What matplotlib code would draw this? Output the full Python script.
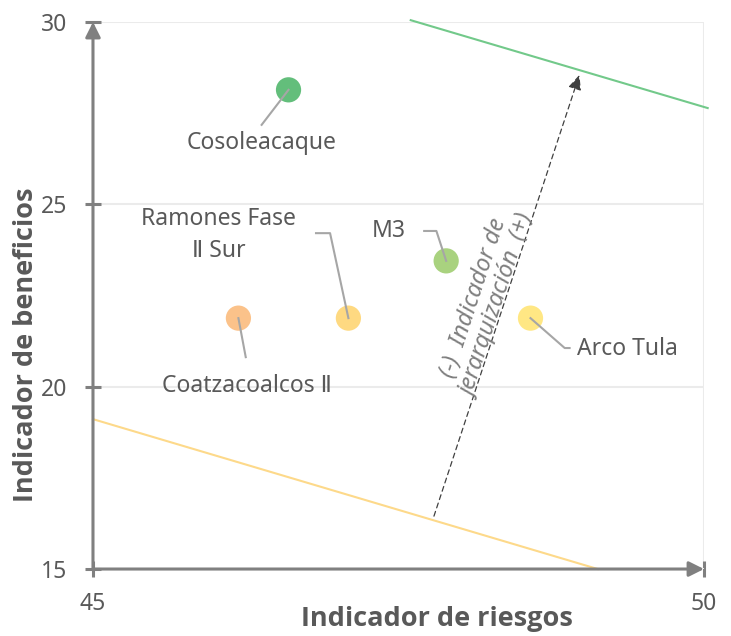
import matplotlib.pyplot as plt

plt.rcParams['font.family'] = ['Noto Sans', 'DejaVu Sans']

# data
names = ['Cosoleacaque', 'Coatzacoalcos Ⅱ', 'Ramones Fase\nⅡ Sur', 'M3', 'Arco Tula']
riesgo = [46.60, 46.19, 47.09, 47.89, 48.58]
beneficio = [28.14, 21.88, 21.88, 23.45, 21.88]
colores = ['#63BE7B', '#FBC28A', '#FED981', '#A9D27F', '#FFE784']

# label anchor (x, y) and elbow of leader line
label_xy = [(46.38, 26.68), (46.26, 20.02), (46.03, 24.16), (47.42, 24.27), (48.96, 21.03)]
leader = [
    [(46.38, 27.18)],
    [(46.25, 20.81)],
    [(46.94, 24.21), (46.825, 24.21)],
    [(47.81, 24.27), (47.71, 24.27)],
    [(48.86, 21.06), (48.90, 21.06)],
]
label_ha = ['center', 'center', 'center', 'center', 'left']

# frontier lines
linea_sup_x = [47.60, 50.03]
linea_sup_y = [30.05, 27.64]
linea_inf_x = [45.0, 49.13]
linea_inf_y = [19.11, 15.0]

# ranking arrow
flecha_ini = (47.79, 16.45)
flecha_fin = (48.98, 28.55)

gris = '#808080'
texto = '#595959'

fig = plt.figure(figsize=(7.31, 6.36), dpi=100)
ax = fig.add_axes([0.1272, 0.1053, 0.8359, 0.8601])
ax.set_xlim(45, 50)
ax.set_ylim(15, 30)

for s in ax.spines.values():
    s.set_visible(False)

ax.set_xticks([45, 50])
ax.set_yticks([15, 20, 25, 30])
ax.grid(True, color='#ebebeb', lw=1.5, zorder=0)
ax.tick_params(axis='both', direction='inout', length=11.5, width=2.2, color=gris,
               labelsize=16.5, labelcolor=texto)
ax.tick_params(axis='x', pad=11)
ax.tick_params(axis='y', pad=13)

# axis lines with arrow heads
ax.annotate('', xy=(45, 30), xytext=(45, 15), annotation_clip=False,
            arrowprops=dict(arrowstyle='-|>,head_length=0.9,head_width=0.45', color=gris,
                            lw=2.2, shrinkA=0, shrinkB=0))
ax.annotate('', xy=(50, 15), xytext=(45, 15), annotation_clip=False,
            arrowprops=dict(arrowstyle='-|>,head_length=0.9,head_width=0.45', color=gris,
                            lw=2.2, shrinkA=0, shrinkB=0))

ax.plot(linea_sup_x, linea_sup_y, color='#72C98A', lw=1.5, clip_on=False, zorder=2)
ax.plot(linea_inf_x, linea_inf_y, color='#FDD98A', lw=1.5, clip_on=False, zorder=2)

ax.scatter(riesgo, beneficio, s=330, c=colores, edgecolors='none', zorder=3)

for i in range(len(names)):
    pts = [(riesgo[i], beneficio[i])] + leader[i]
    ax.plot([p[0] for p in pts], [p[1] for p in pts], color='#a6a6a6', lw=1.5, zorder=4)
    ax.text(label_xy[i][0], label_xy[i][1], names[i], ha=label_ha[i], va='center',
            fontsize=16.5, color=texto, linespacing=1.4, zorder=5)

ax.annotate('', xy=flecha_fin, xytext=flecha_ini,
            arrowprops=dict(arrowstyle='-|>,head_length=0.9,head_width=0.4', color='#404040',
                            lw=0.9, ls=(0, (4, 3)), shrinkA=0, shrinkB=0), zorder=4)
ax.text(48.216, 22.32, '(-)  Indicador de\njerarquización  (+)', rotation=71.7,
        rotation_mode='anchor', ha='center', va='center', fontsize=17,
        fontstyle='italic', fontweight='light', color='#7f7f7f', linespacing=1.15, zorder=5)

# bold titles (Open Sans carries the bold weight)
ax.set_xlabel('Indicador de riesgos', fontsize=19.5, fontweight='bold', color=texto,
              family=['Open Sans', 'DejaVu Sans'])
ax.set_ylabel('Indicador de beneficios', fontsize=19.5, fontweight='bold', color=texto,
              family=['Open Sans', 'DejaVu Sans'])
ax.xaxis.set_label_coords(0.5635, -0.068)
ax.yaxis.set_label_coords(-0.088, 0.41)

fig.savefig('out.png', dpi=100)
